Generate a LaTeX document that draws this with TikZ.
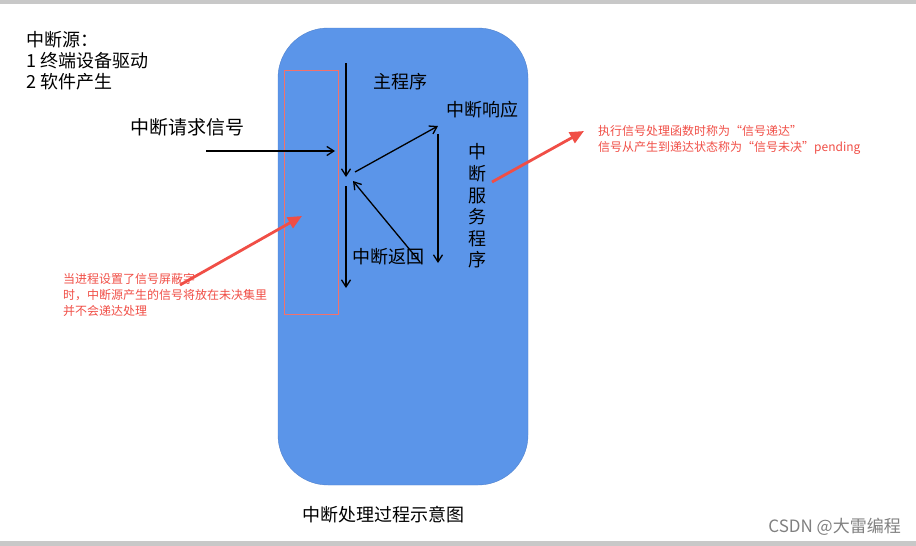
\documentclass[tikz,border=0pt]{standalone}
\usepackage{fontspec}
\setmainfont{Noto Sans CJK SC}
\usetikzlibrary{arrows.meta, positioning}
\definecolor{boxblue}{RGB}{91,149,233}
\definecolor{boxedge}{RGB}{80,130,205}
\definecolor{notered}{RGB}{240,78,70}
\definecolor{framegray}{RGB}{200,200,200}
\tikzset{
  label/.style={font=\fontsize{18}{21}\selectfont, inner sep=0pt, align=center},
  note/.style={font=\fontsize{12}{16}\selectfont, text=notered, inner sep=0pt, align=left},
  arrow/.style={-{Straight Barb[length=7pt, width=9pt]}, line width=1.3pt},
  hint/.style={-{Triangle[length=14pt, width=12pt]}, line width=2.8pt, notered},
  mask/.style={draw=notered!80, line width=0.6pt}
}
\begin{document}
\begin{tikzpicture}[x=1pt, y=-1pt]
    \useasboundingbox (0,0) rectangle (916,546);
    % frame of the screenshot
    \fill[framegray] (0,0) rectangle (916,4);
    \fill[framegray] (0,541) rectangle (916,546);

    % process body
    \node[draw=boxedge, fill=boxblue, rounded corners=50pt, minimum width=250pt, minimum height=457pt] (body) at (403,256.5) {};
    \node[mask, minimum width=54pt, minimum height=244pt, inner sep=0pt] (masked) at (311,192) {};

    % texts
    \node[label, align=left, anchor=west] (src) at (26,61) {中断源：\\1 终端设备驱动\\2 软件产生};
    \node[label, font=\fontsize{19}{21}\selectfont] (req) at (187,127) {中断请求信号};
    \node[label] (main) at (400,82) {主程序};
    \node[label] (resp) at (482,110) {中断响应};
    \node[label, font=\fontsize{18}{21.6}\selectfont] (isr) at (477,206) {中\\断\\服\\务\\程\\序};
    \node[label] (ret) at (388,257) {中断返回};
    \node[label] (title) at (383,515) {中断处理过程示意图};
    \node[font=\fontsize{17}{18}\selectfont, text=black!50, anchor=east, inner sep=0pt] (mark) at (901,527) {CSDN @大雷编程};

    \node[note, anchor=west] (blocked) at (63,295) {当进程设置了信号屏蔽字\\时，中断源产生的信号将放在未决集里\\并不会递达处理};
    \node[note, anchor=west] (deliver) at (598,140) {执行信号处理函数时称为“信号递达”\\信号从产生到递达状态称为“信号未决”pending};

    % flow
    \coordinate (in) at (206,151);
    \coordinate (gate) at (335,151);
    \coordinate (run) at (346,63);
    \coordinate (stop) at (346,177);
    \coordinate (resume) at (346,186);
    \coordinate (end) at (346,288);
    \coordinate (jump) at (355,172);
    \coordinate (enter) at (438,126);
    \coordinate (serve) at (438,134);
    \coordinate (done) at (438,263);
    \coordinate (back) at (420,262);
    \coordinate (home) at (353,181);

    \draw[arrow] (in) -- (gate);
    \draw[arrow] (run) -- (stop);
    \draw[arrow] (resume) -- (end);
    \draw[arrow] (jump) -- (enter);
    \draw[arrow] (serve) -- (done);
    \draw[arrow] (back) -- (home);

    % remarks
    \coordinate (blocked tail) at (180,285);
    \coordinate (blocked tip) at (302,216);
    \coordinate (deliver tail) at (492,182);
    \coordinate (deliver tip) at (584,131);
    \draw[hint] (blocked tail) -- (blocked tip);
    \draw[hint] (deliver tail) -- (deliver tip);
\end{tikzpicture}
\end{document}
